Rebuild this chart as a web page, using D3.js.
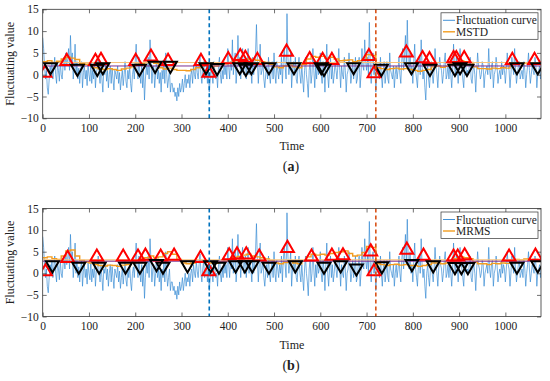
<!DOCTYPE html>
<html>
<head>
<meta charset="utf-8">
<script src="https://cdn.jsdelivr.net/npm/d3@7"></script>
<style>
  body { margin: 0; background: #fff; }
  svg { display: block; font-family: "Liberation Serif", "DejaVu Serif", serif; }
</style>
</head>
<body>
<svg id="chart" width="550" height="381"></svg>
<script>
// fluctuation curve, one value every 2 time units (t = 0, 2, ..., 1078); one row = 40 time units
const fluctStep = 2;
const fluctuation = [
  8.5, 6, 2, -1, 1, -3, -4.5, -1, 2, 0.5, 3, -1, 1.5, 4, 0, -2, 2.5, 1, -1.5, 3,
  0, -1, 2, 4, 1, 5, 2, 3.5, 6, 1, 9, 3, 5, -1, 2, 7, 0, 3, -1, 1.5,
  -2, 1, 3, -3, 0.5, 2, -1, 1, -2.5, 2.5, 0, -1.5, 3, -2, 1, -1, 2, -3, 0.5, 1.5,
  4, 0, -2, 2, -1, -4, 1, 0, 2.5, -1.5, 1, -3, 0, 2, -2, 1.5, -1, -3.5, 1, 0,
  -1, 2, -2, 0.5, -3.5, -1, 1, -2.5, 0, 3, -1.5, -3, 1, -1, 2, -2, -4, 0, 1.5, -1,
  3, 7, 1, -1, 4, 0, -2, 2, -3, 1, -5.8, -1, 2, 0, 4, -1, 8, 3, -2, 1,
  2, -3, 0, 4, -1, 1, -2, 0.5, -4, 1, -1, 3, -2, 5, 0, -3, -1, 1, -4, -2,
  -2, -4, -3, -5, -4, -6, -3, -5, -2, -4, -3, -1, -4, -2, 0, -3, -1, -2, 0, -3,
  0, 1, -2, 2, 0, -1, 3, 0.5, -1, 2, 4.5, 0, -2, 1, 3, -1, 0, 2, -2, 1,
  -4, -1, 2, 0, -2, 3, 1, -1, 0, -3, 2, 4, 0, -2, 1, -1, 3, 0, 2, -1,
  6, 2, -1, 3, 1, 8, 0, 3, 5, -2, 1, 9, 2, 4, -1, 3, 6, 0, 2, 4,
  -1, 3, 6, 0, 3, 1, -2, 4, 0, 2, 5, 11.5, 3, -2, 2, 7, 0, 1, 3, -1,
  -3, 0, 2, -1, 4, 0, -2, 1, 3, -1, 5, 0, -2, 3, 1, -1, 2, 0, 4, -2,
  3, 6, 2, -1, 14, 4, 0, 2, 5, -3, 1, 3, 0, 4, -1, -2, 2, 4, 0, -2,
  2, -1, -4, 1, 4, 0, -2, -5.2, 1, 3, -2, 0, 6, 1, -3, 2, -1, 3, 0, 1,
  5, 0, -2, 3, 1, -4, 2, 7, 0, -3, 1, 4, -1, 2, -2, 0, 3, 1, -1, 2,
  6, 1, -3, 2, 0, -1, 4, 1, -4, 0, 1, 5, 2, -2, 0, 3, -1, 1, 4, -2,
  -1, 2, 4, -3, 0, 6, 2, 1, 8, 3, 1, 4, 0, 12, 2, -2, 3, 5, 0, 2,
  -4, 0, 2, 1, -1, 4, 0, -3, 1, 3, -2, 0, 3, -1, -2, 5, 1, 0, -1, 2,
  -3, 0, 2, -1, 1, 4, 0, -2, 3, 6, 1, 4, 9, 2, 12.5, 3, 1, 5, 0, 2,
  -2, 3, 7, 1, -1, -3, 2, 4, 0, 8, 2, -1, 1, -3, -5.8, 0, 2, -1, -3, 1,
  3, 0, -2, 1, 6, 2, 0, -3, 1, 4, 2, 1, -2, 0, 3, 5, -1, 0, 2, -1,
  2, 0, -3, 1, 7, 2, 0, 4, 1, -2, 2, 6, 3, 1, -1, -3, 2, 3, 0, 1,
  0, 2, 4, -1, -2, 1, 2, 0, -4, 1, 5, 2, 1, -1, 0, 3, 2, -3, 0, 1,
  2, 0, 6, 1, -1, 2, 3, -3, 0, 1, 4, 2, -2, 0, 1, -1, 3, 0, 2, 1,
  -2, 1, 5, 2, 1, -3, 0, 4, 2, 0, 6, 1, -2, 0, 2, 3, -1, 0, 1, -1,
  3, 1, -3, 0, 2, 5, 1, -2, 0, 2, 1, 0, 4, 2, -3, 0, 1, 2, -1, 1
];

// moving statistics, one value every 10 time units
const statStep = 10;
const mstd = [
  3.0, 3.2, 2.8, 3.1, 3.6, 4.0, 3.8, 3.5, 2.6, 2.4,
  2.2, 1.6, 1.3, 1.2, 1.4, 1.2, 1.0, 1.3, 1.5, 1.8,
  2.4, 2.6, 2.8, 3.0, 2.6, 1.6, 1.3, 1.5, 1.2, 1.0,
  1.0, 0.9, 1.2, 1.6, 2.0, 2.2, 1.8, 2.0, 2.4, 2.5,
  2.8, 3.2, 3.5, 3.4, 3.6, 3.5, 3.3, 3.0, 2.8, 2.4,
  1.8, 1.6, 2.0, 2.2, 1.8, 1.6, 2.4, 3.6, 4.2, 4.0,
  4.2, 3.8, 4.0, 3.6, 3.2, 3.3, 3.4, 3.0, 3.2, 3.5,
  4.6, 4.4, 1.6, 1.4, 1.2, 1.4, 1.5, 1.3, 1.4, 1.2,
  1.0, 0.8, 1.0, 1.2, 1.8, 2.0, 1.7, 1.9, 2.4, 3.0,
  3.2, 3.0, 2.8, 1.8, 1.4, 1.4, 1.3, 1.5, 1.4, 1.6,
  1.5, 2.4, 2.6, 2.5, 2.7, 2.5, 2.6, 2.4
];
const mrms = [
  3.6, 3.8, 3.4, 3.2, 4.0, 5.2, 5.4, 4.0, 3.0, 2.6,
  2.4, 2.0, 1.8, 1.7, 1.9, 1.8, 1.6, 1.9, 2.0, 2.4,
  3.0, 3.3, 3.6, 4.0, 3.6, 3.8, 4.6, 5.0, 4.4, 3.2,
  2.4, 2.2, 2.4, 2.6, 2.8, 2.9, 2.4, 2.3, 2.6, 2.8,
  3.2, 3.6, 3.9, 4.2, 4.4, 4.0, 3.8, 3.6, 3.3, 3.0,
  2.4, 2.2, 2.5, 2.8, 2.4, 2.2, 2.8, 3.8, 4.4, 4.2,
  4.4, 4.2, 4.6, 4.8, 5.0, 5.2, 4.6, 4.0, 4.2, 4.8,
  6.2, 6.0, 2.2, 2.0, 1.8, 2.0, 2.1, 1.9, 2.0, 1.8,
  1.8, 1.6, 1.8, 2.0, 2.4, 2.4, 2.2, 2.4, 2.8, 3.4,
  3.8, 3.6, 3.4, 2.6, 2.2, 2.2, 2.0, 2.3, 2.2, 2.4,
  2.3, 3.0, 3.2, 3.1, 3.3, 3.1, 3.2, 3.0
];

// horizontal thresholds [upper (orange), lower (purple)]
const limitsA = [2.8, 2.0];
const limitsB = [3.1, 2.8];

// detected peaks (red up triangles) and troughs (black down triangles): [time, value]
const upA = [[5,0.4],[52,3.1],[114,3.1],[126,3.3],[201,3.1],[234,4.1],[271,3.1],[342,3.1],[359,0.4],
  [401,3.5],[427,4.2],[438,3.8],[464,3.3],[527,5.2],[577,3.5],[605,3.3],[625,3.3],[705,4.2],[716,0.25],
  [786,5.0],[821,3.7],[836,3.5],[888,3.7],[894,3.7],[911,3.7],[1015,3.3],[1063,3.3]];
const downA = [[17,1.8],[75,1.4],[118,1.4],[130,1.8],[209,1.4],[243,2.1],[276,2.1],[353,1.8],[377,1.6],
  [426,1.8],[439,1.4],[451,1.8],[489,1.8],[543,1.8],[602,1.8],[608,1.4],[672,1.8],[732,1.4],[797,1.8],
  [837,1.4],[891,1.4],[902,1.8],[917,1.4],[1025,1.8],[1070,1.8]];
const upB = [[6,0.4],[54,3.5],[117,3.8],[174,3.8],[206,3.8],[222,4.0],[255,3.8],[284,4.0],[341,3.5],
  [359,0.4],[403,4.1],[420,4.3],[440,4.3],[468,3.8],[529,5.8],[581,3.8],[625,4.0],[649,4.1],[709,5.0],
  [716,0.4],[787,5.4],[823,4.0],[888,3.8],[897,3.8],[912,4.1],[1008,3.8],[1065,4.0]];
const downB = [[21,1.9],[78,1.6],[122,1.6],[179,1.6],[210,1.6],[246,2.2],[260,1.6],[313,1.9],[363,1.9],
  [381,1.6],[417,1.9],[437,1.9],[453,1.9],[489,1.6],[546,1.9],[608,1.6],[644,1.9],[678,1.2],[733,1.7],
  [798,2.2],[844,1.9],[891,1.5],[905,1.5],[919,1.5],[1025,1.6],[1070,1.9]];

const changePoints = [360, 720];
const xTicks = d3.range(0, 1001, 100);
const yTicks = [-10, -5, 0, 5, 10, 15];
const xMax = 1077;

const svg = d3.select("#chart");
const serif = '"Liberation Serif", "DejaVu Serif", serif';

function drawPanel(cfg) {
  const left = 42.7, right = 541;
  const x = d3.scaleLinear().domain([0, xMax]).range([left, right]);
  const y = d3.scaleLinear().domain([-10, 15]).range([cfg.bottom, cfg.top]);
  const g = svg.append("g");

  const clipId = "clip" + cfg.tag;
  g.append("clipPath").attr("id", clipId)
    .append("rect").attr("x", left).attr("y", cfg.top).attr("width", right - left).attr("height", cfg.bottom - cfg.top);
  const plot = g.append("g").attr("clip-path", `url(#${clipId})`);

  // fluctuation curve
  plot.append("path")
    .datum(fluctuation)
    .attr("fill", "none")
    .attr("stroke", "#2f86d2")
    .attr("stroke-width", 0.65)
    .attr("d", d3.line().x((d, i) => x(i * fluctStep)).y(d => y(d)));

  // moving statistic
  plot.append("path")
    .datum(cfg.stat)
    .attr("fill", "none")
    .attr("stroke", "#f39c1f")
    .attr("stroke-width", 1.4)
    .attr("d", d3.line().curve(d3.curveStepAfter).x((d, i) => x(i * statStep)).y(d => y(d)));

  // thresholds
  plot.append("line").attr("x1", left).attr("x2", right)
    .attr("y1", y(cfg.limits[0])).attr("y2", y(cfg.limits[0]))
    .attr("stroke", "#f7c27a").attr("stroke-width", 1.2);
  plot.append("line").attr("x1", left).attr("x2", right)
    .attr("y1", y(cfg.limits[1])).attr("y2", y(cfg.limits[1]))
    .attr("stroke", "#7e2f8e").attr("stroke-width", 1);

  // change point lines
  const cpColors = ["#0072bd", "#d95319"];
  changePoints.forEach((c, i) => {
    g.append("line").attr("x1", x(c)).attr("x2", x(c))
      .attr("y1", cfg.top).attr("y2", cfg.bottom)
      .attr("stroke", cpColors[i]).attr("stroke-width", 1.6)
      .attr("stroke-dasharray", "4,3");
  });

  // markers
  const tri = d3.symbol().type(d3.symbolTriangle).size(72);
  plot.selectAll(".up").data(cfg.up).join("path")
    .attr("transform", d => `translate(${x(d[0])},${y(d[1])})`)
    .attr("d", tri)
    .attr("fill", "none").attr("stroke", "#ff0000").attr("stroke-width", 2);
  plot.selectAll(".down").data(cfg.down).join("path")
    .attr("transform", d => `translate(${x(d[0])},${y(d[1])}) rotate(180)`)
    .attr("d", tri)
    .attr("fill", "none").attr("stroke", "#000").attr("stroke-width", 2);

  // axes with inward ticks, mirrored on top/right
  const tl = 4;
  const ax = g.append("g").attr("transform", `translate(0,${cfg.bottom})`)
    .call(d3.axisBottom(x).tickValues(xTicks).tickSize(-tl).tickPadding(7).tickFormat(d3.format("d")));
  const axT = g.append("g").attr("transform", `translate(0,${cfg.top})`)
    .call(d3.axisTop(x).tickValues(xTicks).tickSize(-tl).tickFormat(""));
  const ay = g.append("g").attr("transform", `translate(${left},0)`)
    .call(d3.axisLeft(y).tickValues(yTicks).tickSize(-tl).tickPadding(4).tickFormat(d => d < 0 ? "\u2212" + Math.abs(d) : d));
  const ayR = g.append("g").attr("transform", `translate(${right},0)`)
    .call(d3.axisRight(y).tickValues(yTicks).tickSize(-tl).tickFormat(""));
  [ax, axT, ay, ayR].forEach(a => {
    a.attr("font-family", serif).attr("font-size", 11.5);
    a.select(".domain").remove();
    a.selectAll("line").attr("stroke", "#333").attr("stroke-width", 0.7);
    a.selectAll("text").attr("fill", "#222");
  });
  ax.selectAll("text").attr("dy", "0.6em");

  g.append("rect").attr("x", left).attr("y", cfg.top)
    .attr("width", right - left).attr("height", cfg.bottom - cfg.top)
    .attr("fill", "none").attr("stroke", "#333").attr("stroke-width", 0.8);

  // labels
  g.append("text").attr("x", (left + right) / 2).attr("y", cfg.bottom + 32)
    .attr("text-anchor", "middle").attr("font-size", 12).attr("fill", "#222").text("Time");
  g.append("text").attr("transform", `translate(14,${(cfg.top + cfg.bottom) / 2}) rotate(-90)`)
    .attr("text-anchor", "middle").attr("font-size", 12).attr("fill", "#222").text("Fluctuating value");
  const cap = g.append("text").attr("x", 291).attr("y", cfg.bottom + 53)
    .attr("text-anchor", "middle").attr("font-size", 14).attr("fill", "#222");
  cap.append("tspan").text("(");
  cap.append("tspan").attr("font-weight", "bold").text(cfg.tag);
  cap.append("tspan").text(")");

  // legend
  const lg = g.append("g").attr("transform", `translate(441,${cfg.top + 3.5})`);
  lg.append("rect").attr("width", 97).attr("height", 26.5)
    .attr("fill", "#fff").attr("stroke", "#333").attr("stroke-width", 0.7);
  const entries = [["Fluctuation curve", "#2f86d2", 0.9], [cfg.name, "#f39c1f", 1.4]];
  entries.forEach((e, i) => {
    const yy = 7.5 + i * 11.5;
    lg.append("line").attr("x1", 2).attr("x2", 14).attr("y1", yy).attr("y2", yy)
      .attr("stroke", e[1]).attr("stroke-width", e[2]);
    lg.append("text").attr("x", 15).attr("y", yy + 4).attr("font-size", 11.5)
      .attr("fill", "#222").text(e[0]);
  });
}

drawPanel({ tag: "a", top: 9.3, bottom: 118.3, stat: mstd, name: "MSTD", limits: limitsA, up: upA, down: downA });
drawPanel({ tag: "b", top: 208.5, bottom: 316.5, stat: mrms, name: "MRMS", limits: limitsB, up: upB, down: downB });
</script>
</body>
</html>
